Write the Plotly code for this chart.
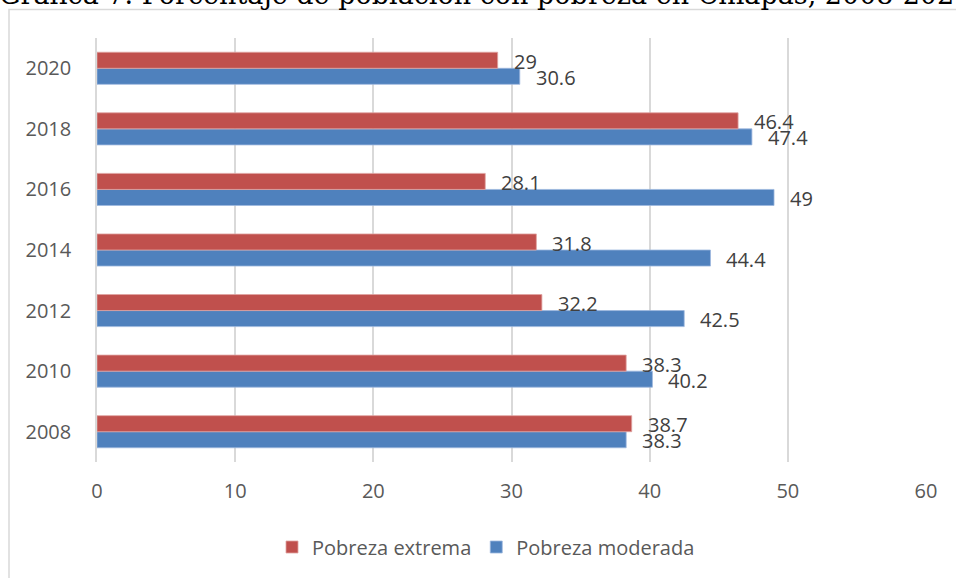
import plotly.graph_objects as go

years = ["2008", "2010", "2012", "2014", "2016", "2018", "2020"]
extrema = [38.7, 38.3, 32.2, 31.8, 28.1, 46.4, 29]
moderada = [38.3, 40.2, 42.5, 44.4, 49, 47.4, 30.6]
series_names = ["Pobreza extrema", "Pobreza moderada"]
x_ticks = [0, 10, 20, 30, 40, 50, 60]
title_text = "Gráfica 7. Porcentaje de población con pobreza en Chiapas, 2008-2020"

RED = "#C0504D"
BLUE = "#4F81BD"
FONT = "Open Sans"

fig = go.Figure()
fig.add_trace(go.Bar(
    y=years, x=moderada, orientation="h", name=series_names[1],
    marker=dict(color=BLUE, line=dict(width=0.8, color="#9DB8DE")), legendrank=2,
))
fig.add_trace(go.Bar(
    y=years, x=extrema, orientation="h", name=series_names[0],
    marker=dict(color=RED, line=dict(width=0.8, color="#E0A3A1")), legendrank=1,
))

annotations = []
for i, v in enumerate(extrema):
    annotations.append(dict(x=v, y=i, xref="x", yref="y", text=f"{v:g}", showarrow=False,
                            xanchor="left", yanchor="middle", xshift=14, yshift=7,
                            font=dict(family=FONT, size=20, color="#404040")))
for i, v in enumerate(moderada):
    annotations.append(dict(x=v, y=i, xref="x", yref="y", text=f"{v:g}", showarrow=False,
                            xanchor="left", yanchor="middle", xshift=14, yshift=-9,
                            font=dict(family=FONT, size=20, color="#404040")))

# clipped title at top
annotations.append(dict(x=0, y=1, xref="paper", yref="paper", text=title_text, showarrow=False,
                        xanchor="left", yanchor="bottom", xshift=-100, yshift=26,
                        font=dict(family="DejaVu Serif", size=27, color="#000000")))

W, H = 956, 578
L, R, T, B = 97, 30, 38, 116
pw, ph = W - L - R, H - T - B

shapes = [dict(type="rect", xref="paper", yref="paper",
               x0=(9 - L) / pw, x1=(W + 20 - L) / pw,
               y0=-(H + 20 - (H - B)) / ph, y1=1 + (T - 9.5) / ph,
               line=dict(color="#D9D9D9", width=1.5), fillcolor="rgba(0,0,0,0)", layer="below")]

fig.update_layout(
    width=W, height=H,
    margin=dict(l=L, r=R, t=T, b=B, pad=0, autoexpand=False),
    paper_bgcolor="white", plot_bgcolor="white",
    barmode="group", bargap=0.47, bargroupgap=0,
    font=dict(family=FONT, size=20, color="#595959"),
    showlegend=True,
    legend=dict(orientation="h", x=(486 - L) / pw, xanchor="center", y=-(547 - (H - B)) / ph,
                yanchor="middle", font=dict(family=FONT, size=20, color="#595959"),
                itemwidth=30, traceorder="normal"),
    annotations=annotations,
    shapes=shapes,
)
fig.update_xaxes(range=[0, 60], tickvals=x_ticks, showgrid=True, gridcolor="#D9D9D9", gridwidth=1.5,
                 zeroline=False, showline=False, ticks="outside", ticklen=11,
                 tickcolor="rgba(0,0,0,0)", tickfont=dict(family=FONT, size=20, color="#595959"),
                 fixedrange=True, automargin=False)
fig.update_yaxes(type="category", categoryorder="array", categoryarray=years, range=[-0.5, 6.5],
                 showgrid=False, zeroline=False, showline=True, linecolor="#D9D9D9", linewidth=1.5,
                 ticks="outside", ticklen=20, tickcolor="rgba(0,0,0,0)",
                 tickfont=dict(family=FONT, size=20, color="#595959"), fixedrange=True,
                 automargin=False)

fig.write_html("out.html", config={"displayModeBar": False},
               post_script="document.body.style.margin='0';document.body.style.overflow='hidden';")
